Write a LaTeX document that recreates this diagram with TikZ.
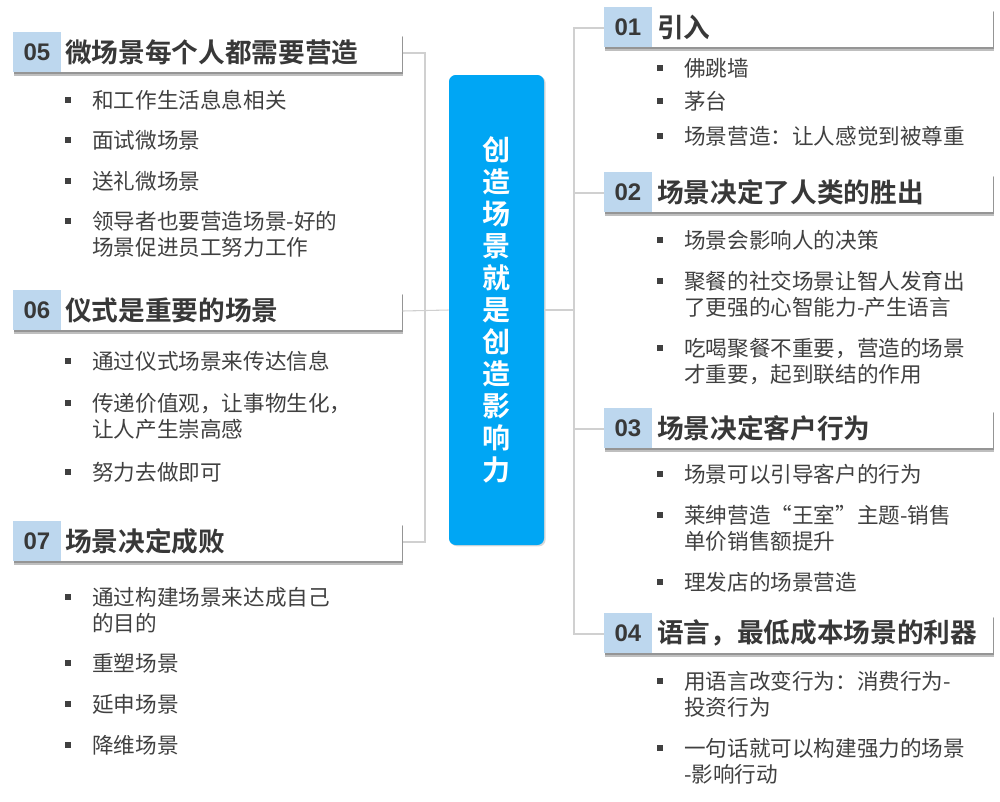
\documentclass[tikz,border=0pt]{standalone}
\usepackage{fontspec}
\setmainfont{Noto Sans CJK SC}[BoldFont={Noto Sans CJK SC Bold}]
\newfontfamily\numfont{Liberation Sans}
\usetikzlibrary{shadows}
\definecolor{ctrblue}{HTML}{00A6F4}
\definecolor{numbg}{HTML}{BDD7EE}
\definecolor{txtc}{HTML}{404040}
\definecolor{hdc}{HTML}{383838}
\definecolor{connc}{HTML}{D0D0D0}
\begin{document}
\begin{tikzpicture}[x=0.75pt,y=-0.75pt,
  hdrbox/.style={fill=white, minimum width=291.75pt, minimum height=29pt, inner sep=0pt, anchor=west,
     drop shadow={shadow xshift=0.8pt, shadow yshift=-1.6pt, opacity=0.22, fill=black},
     drop shadow={shadow xshift=0.6pt, shadow yshift=-2.4pt, opacity=0.25, fill=black}},
  numbox/.style={fill=numbg, minimum width=35.5pt, minimum height=30.5pt, inner sep=0pt, anchor=west,
     font=\numfont\bfseries\fontsize{18}{20}\selectfont, text=hdc},
  title/.style={anchor=west, inner sep=0pt, text=hdc, font=\bfseries\fontsize{20}{24}\selectfont},
  item/.style={anchor=west, inner sep=0pt, align=left, text=txtc, font=\fontsize{16.2}{19.5}\selectfont},
  bul/.style={fill=txtc, minimum size=4.2pt, inner sep=0pt},
  conn/.style={draw=connc, line width=0.8pt}]
\useasboundingbox (0,0) rectangle (1000,801);

% centre
\node[fill=ctrblue, rounded corners=5pt, minimum width=71.25pt, minimum height=352.5pt, inner sep=0pt,
  drop shadow={shadow xshift=1.2pt, shadow yshift=-1pt, opacity=0.3}] (ctr) at (496.5,310) {};
\node[text=white, align=center, font=\bfseries\fontsize{21}{24}\selectfont, inner sep=0pt] (ctrt) at (ctr.center)
  {创\\造\\场\\景\\就\\是\\创\\造\\影\\响\\力};

% left headers
\node[hdrbox] (h05) at (13,53) {};
\node[numbox] (n05) at (13,52) {05};
\node[title] (t05) at (65,52) {微场景每个人都需要营造};
\node[hdrbox] (h06) at (13,311) {};
\node[numbox] (n06) at (13,310) {06};
\node[title] (t06) at (65,310) {仪式是重要的场景};
\node[hdrbox] (h07) at (13,542) {};
\node[numbox] (n07) at (13,541) {07};
\node[title] (t07) at (65,541) {场景决定成败};

% right headers
\node[hdrbox] (h01) at (604,28) {};
\node[numbox] (n01) at (604,27) {01};
\node[title] (t01) at (657,27) {引入};
\node[hdrbox] (h02) at (604,193) {};
\node[numbox] (n02) at (604,192) {02};
\node[title] (t02) at (657,192) {场景决定了人类的胜出};
\node[hdrbox] (h03) at (604,429) {};
\node[numbox] (n03) at (604,428) {03};
\node[title] (t03) at (657,428) {场景决定客户行为};
\node[hdrbox] (h04) at (604,634) {};
\node[numbox] (n04) at (604,633) {04};
\node[title] (t04) at (657,633) {语言，最低成本场景的利器};

% connectors
\coordinate (LJ) at (425,310);
\coordinate (RJ) at (574,310);
\draw[conn] (h05.east) -| (LJ) |- (h07.east);
\draw[conn] (h06.east) -- (ctr.west);
\draw[conn] (ctr.east) -- (RJ);
\draw[conn] (h01.west) -| (RJ) |- (h04.west);
\draw[conn] (RJ |- h02.west) -- (h02.west);
\draw[conn] (RJ |- h03.west) -- (h03.west);

% left items
\node[bul] (b1) at (68,100) {}; \node[item] (i1) at (92,100) {和工作生活息息相关};
\node[bul] (b2) at (68,140) {}; \node[item] (i2) at (92,140) {面试微场景};
\node[bul] (b3) at (68,181) {}; \node[item] (i3) at (92,181) {送礼微场景};
\node[bul] (b4) at (68,221) {}; \node[item] (i4) at (92,234.5) {领导者也要营造场景-好的\\场景促进员工努力工作};
\node[bul] (b5) at (68,361) {}; \node[item] (i5) at (92,361) {通过仪式场景来传达信息};
\node[bul] (b6) at (68,403) {}; \node[item] (i6) at (92,416.5) {传递价值观，让事物生化，\\让人产生崇高感};
\node[bul] (b7) at (68,472) {}; \node[item] (i7) at (92,472) {努力去做即可};
\node[bul] (b8) at (68,597) {}; \node[item] (i8) at (92,610) {通过构建场景来达成自己\\的目的};
\node[bul] (b9) at (68,663) {}; \node[item] (i9) at (92,663) {重塑场景};
\node[bul] (b10) at (68,704) {}; \node[item] (i10) at (92,704) {延申场景};
\node[bul] (b11) at (68,745) {}; \node[item] (i11) at (92,745) {降维场景};

% right items
\node[bul] (r1) at (660,68) {}; \node[item] (j1) at (684,68) {佛跳墙};
\node[bul] (r2) at (660,101) {}; \node[item] (j2) at (684,101) {茅台};
\node[bul] (r3) at (660,136) {}; \node[item] (j3) at (684,136) {场景营造：让人感觉到被尊重};
\node[bul] (r4) at (660,240) {}; \node[item] (j4) at (684,240) {场景会影响人的决策};
\node[bul] (r5) at (660,281) {}; \node[item] (j5) at (684,294) {聚餐的社交场景让智人发育出\\了更强的心智能力-产生语言};
\node[bul] (r6) at (660,348) {}; \node[item] (j6) at (684,361.5) {吃喝聚餐不重要，营造的场景\\才重要，起到联结的作用};
\node[bul] (r7) at (660,474) {}; \node[item] (j7) at (684,474) {场景可以引导客户的行为};
\node[bul] (r8) at (660,515) {}; \node[item] (j8) at (684,528) {莱绅营造“王室”主题-销售\\单价销售额提升};
\node[bul] (r9) at (660,582) {}; \node[item] (j9) at (684,582) {理发店的场景营造};
\node[bul] (r10) at (660,681) {}; \node[item] (j10) at (684,694) {用语言改变行为：消费行为-\\投资行为};
\node[bul] (r11) at (660,748) {}; \node[item] (j11) at (684,761) {一句话就可以构建强力的场景\\-影响行动};
\end{tikzpicture}
\end{document}
